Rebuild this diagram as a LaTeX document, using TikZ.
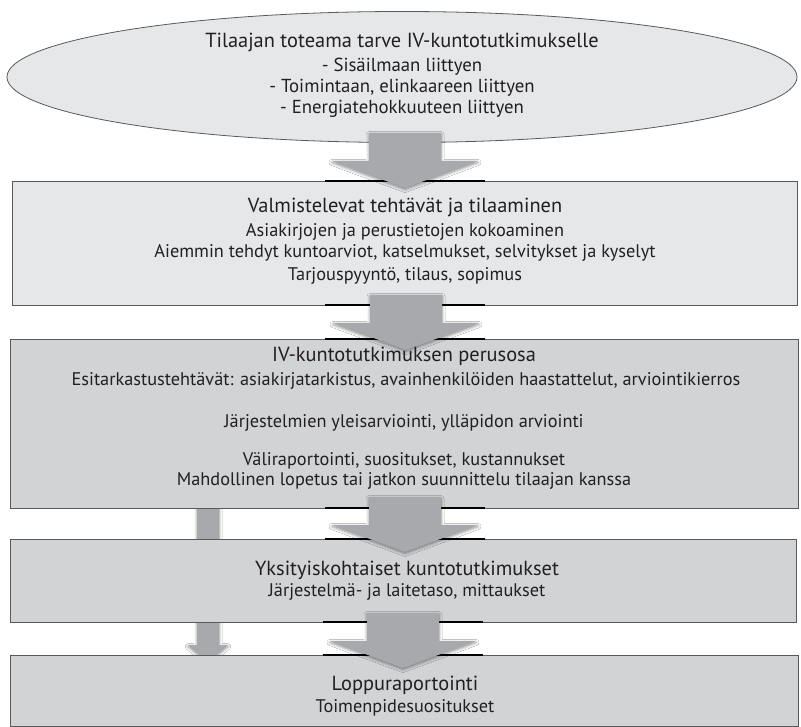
\documentclass[tikz,border=0pt]{standalone}
\usepackage{fontspec}
\setmainfont{PT Sans}
\usetikzlibrary{shapes.geometric,shadows.blur}
\definecolor{txt}{HTML}{231F20}
\definecolor{lightfill}{HTML}{E6E7E8}
\definecolor{midfill}{HTML}{D1D3D4}
\definecolor{edgecol}{HTML}{58595B}
\definecolor{arrowfill}{HTML}{A7A9AC}
\tikzset{
  boxshape/.style={draw=edgecol, line width=0.9pt, inner sep=0pt, anchor=north west},
  ttl/.style={anchor=base, text=txt, font=\fontsize{20.4}{23}\selectfont, inner sep=0pt},
  sub/.style={anchor=base, text=txt, font=\fontsize{18.3}{21}\selectfont, inner sep=0pt},
  esub/.style={anchor=base, text=txt, font=\fontsize{18.8}{21}\selectfont, inner sep=0pt},
  arrowshade/.style={fill=arrowfill, blur shadow={shadow xshift=0pt, shadow yshift=-1.5pt, shadow blur radius=3pt, shadow opacity=45}},
  seg/.style={line width=1.6pt, black},
  blockarrow/.pic={
    \fill[arrowshade] (-36,0) -- (36,0) -- (36,28) -- (73,28) -- (0,55) -- (-73,28) -- (-36,28) -- cycle;
  }
}
\begin{document}
\begin{tikzpicture}[x=1pt,y=-1pt]
\useasboundingbox (0,0) rectangle (801,727);
\fill[white] (0,0) rectangle (801,727);

% long left arrow (behind the boxes)
\coordinate (la) at (208,490);
\fill[arrowshade] (197,490) -- (219,490) -- (219,645) -- (228,645) -- (208,662) -- (188,645) -- (197,645) -- cycle;

% ellipse
\node[ellipse, draw=edgecol, line width=0.8pt, fill=lightfill, minimum width=790pt, minimum height=131pt, inner sep=0pt] (need) at (402,77) {};

% boxes
\node[boxshape, fill=lightfill, minimum width=785pt, minimum height=124pt] (b1) at (12,181) {};
\node[boxshape, fill=midfill, minimum width=788pt, minimum height=169pt] (b2) at (10,339) {};
\node[boxshape, fill=midfill, minimum width=786pt, minimum height=83pt] (b3) at (10,539) {};
\node[boxshape, fill=midfill, minimum width=788pt, minimum height=71pt] (b4) at (10,655) {};

% dark segments where the arrows meet the boxes
\draw[seg] (325,181) -- (485,181);
\draw[seg] (325,305) -- (485,305);
\draw[seg] (325,339) -- (485,339);
\draw[seg] (325,508) -- (485,508);
\draw[seg] (325,539) -- (485,539);
\draw[seg] (323,622) -- (483,622);
\draw[seg] (323,655) -- (483,655);

% big arrows
\coordinate (a1) at (405,133);
\coordinate (a2) at (406,295);
\coordinate (a3) at (405,497);
\coordinate (a4) at (403,613);
\pic at (a1) {blockarrow};
\pic at (a2) {blockarrow};
\pic at (a3) {blockarrow};
\pic at (a4) {blockarrow};

% texts
\node[ttl] (e1) at (402,48) {Tilaajan toteama tarve IV-kuntotutkimukselle};
\node[esub] (e2) at (402,72) {- Sisäilmaan liittyen};
\node[esub] (e3) at (402,93) {- Toimintaan, elinkaareen liittyen};
\node[esub] (e4) at (402,114) {- Energiatehokkuuteen liittyen};

\node[ttl] (t1) at (405,213) {Valmistelevat tehtävät ja tilaaminen};
\node[sub] (t2) at (405,237) {Asiakirjojen ja perustietojen kokoaminen};
\node[sub] (t3) at (405,258) {Aiemmin tehdyt kuntoarviot, katselmukset, selvitykset ja kyselyt};
\node[sub] (t4) at (405,281) {Tarjouspyyntö, tilaus, sopimus};

\node[ttl] (p1) at (404,362) {IV-kuntotutkimuksen perusosa};
\node[sub] (p2) at (406,385) {Esitarkastustehtävät: asiakirjatarkistus, avainhenkilöiden haastattelut, arviointikierros};
\node[sub] (p3) at (404,428) {Järjestelmien yleisarviointi, ylläpidon arviointi};
\node[sub] (p4) at (404,465) {Väliraportointi, suositukset, kustannukset};
\node[sub] (p5) at (404,485) {Mahdollinen lopetus tai jatkon suunnittelu tilaajan kanssa};

\node[ttl] (y1) at (407,575) {Yksityiskohtaiset kuntotutkimukset};
\node[sub] (y2) at (407,596) {Järjestelmä- ja laitetaso, mittaukset};

\node[ttl] (l1) at (405,690) {Loppuraportointi};
\node[sub] (l2) at (405,712) {Toimenpidesuositukset};
\end{tikzpicture}
\end{document}
